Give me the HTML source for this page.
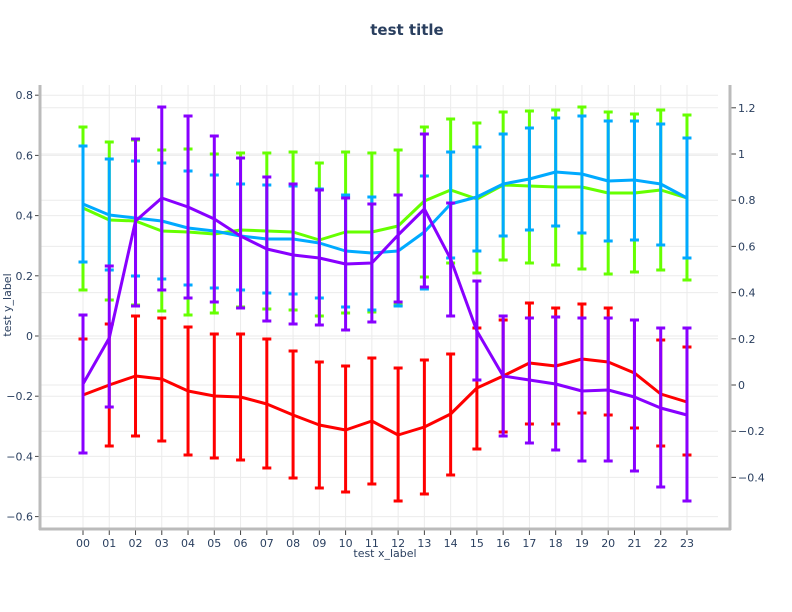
<!DOCTYPE html>
<html><head><meta charset="utf-8"><style>body{margin:0;background:#fff}svg{display:block}text{font-family:"DejaVu Sans","Liberation Sans",sans-serif;fill:#2a3f5f}</style></head>
<body>
<svg id="s" width="792" height="612" viewBox="0 0 792 612" xmlns="http://www.w3.org/2000/svg">
<text x="407" y="35" font-size="15" font-weight="bold" text-anchor="middle">test title</text>
<text x="385" y="557" font-size="11" text-anchor="middle">test x_label</text>
<text transform="translate(11,305) rotate(-90)" font-size="11" text-anchor="middle">test y_label</text>
<g id="g"></g>
</svg>
<script>
var g=document.getElementById('g'),NS='http://www.w3.org/2000/svg',h='';
function X(i){return 83+i*26.26;}
// grid
for(var v=-0.6;v<=0.81;v+=0.2){var y=336-301*v;h+='<line x1="41" x2="718" y1="'+y+'" y2="'+y+'" stroke="#ebebeb" stroke-width="1"/>';
h+='<line x1="35" x2="40" y1="'+y+'" y2="'+y+'" stroke="#444"/>';
h+='<text x="33" y="'+(y+4)+'" font-size="11" text-anchor="end">'+(Math.abs(v)<1e-9?'0':(v<0?'\u2212':'')+Math.abs(v).toFixed(1))+'</text>';}
var rv=[-0.4,-0.2,0,0.2,0.4,0.6,0.8,1,1.2];
rv.forEach(function(v){var y=385-231*v;h+='<line x1="41" x2="718" y1="'+y+'" y2="'+y+'" stroke="#ebebeb" stroke-width="1"/>';
h+='<line x1="731" x2="736" y1="'+y+'" y2="'+y+'" stroke="#444"/>';
var t=v===0?'0':(v===1?'1':(v<0?'\u2212':'')+Math.abs(v).toFixed(1));
h+='<text x="738" y="'+(y+4)+'" font-size="11">'+t+'</text>';});
for(var i=0;i<24;i++){var x=X(i);h+='<line x1="'+x+'" x2="'+x+'" y1="85" y2="528" stroke="#ebebeb"/>';
h+='<line x1="'+x+'" x2="'+x+'" y1="530" y2="535" stroke="#444"/>';
h+='<text x="'+x+'" y="547" font-size="11" text-anchor="middle">'+(i<10?'0'+i:i)+'</text>';}
h+='<line x1="40" x2="40" y1="85" y2="530" stroke="#bbb" stroke-width="3"/>';
h+='<line x1="39" x2="731" y1="529" y2="529" stroke="#bbb" stroke-width="3"/>';
h+='<line x1="730" x2="730" y1="85" y2="530" stroke="#bbb" stroke-width="3"/>';
var S=[
['#ff0000',[395,385,376,379,391,396,397,404,415,425,430,421,435,427,414,388,376,363,366,359,362,373,394,402],
[339,324,316,318,327,334,334,339,351,362,366,358,368,360,354,328,320,303,308,304,308,320,340,347],
[453,446,436,441,455,458,460,468,478,488,492,484,501,494,475,449,432,424,424,413,415,428,446,455]],
['#66ff00',[208,220,221,231,232,234,230,231,232,240,232,232,226,201,190,199,185,186,187,187,193,193,190,198],
[127,142,140,150,149,154,153,153,152,163,152,153,150,127,119,123,112,111,110,107,112,114,110,115],
[290,300,305,311,315,313,307,309,310,316,313,312,305,277,263,273,260,263,265,269,274,272,270,280]],
['#00aaff',[204,215,218,221,228,231,236,239,239,243,251,253,251,232,204,197,184,179,172,174,181,180,184,198],
[146,159,161,163,171,175,184,185,186,189,195,197,195,176,152,147,134,128,118,116,121,121,124,138],
[262,270,276,279,285,288,290,293,294,298,307,310,306,289,258,251,236,230,226,233,241,240,245,258]],
['#8800ff',[384,338,221,198,207,219,236,249,255,258,264,263,235,209,259,331,376,380,384,391,390,397,408,415],
[315,266,139,107,116,136,158,177,184,190,198,204,195,134,203,281,316,318,317,318,318,320,328,328],
[453,407,306,290,298,302,308,321,324,325,330,322,302,287,316,380,436,443,450,461,461,471,487,501]]];
S.forEach(function(s){var c=s[0],p='';
for(var i=0;i<24;i++){var x=X(i);
h+='<line x1="'+x+'" x2="'+x+'" y1="'+s[2][i]+'" y2="'+s[3][i]+'" stroke="'+c+'" stroke-width="3"/>';
h+='<line x1="'+(x-4.5)+'" x2="'+(x+4.5)+'" y1="'+s[2][i]+'" y2="'+s[2][i]+'" stroke="'+c+'" stroke-width="3"/>';
h+='<line x1="'+(x-4.5)+'" x2="'+(x+4.5)+'" y1="'+s[3][i]+'" y2="'+s[3][i]+'" stroke="'+c+'" stroke-width="3"/>';
p+=(i?'L':'M')+x+','+s[1][i];}
h+='<path d="'+p+'" fill="none" stroke="'+c+'" stroke-width="3" stroke-linejoin="round"/>';});
g.innerHTML=h;
</script>
</body></html>
